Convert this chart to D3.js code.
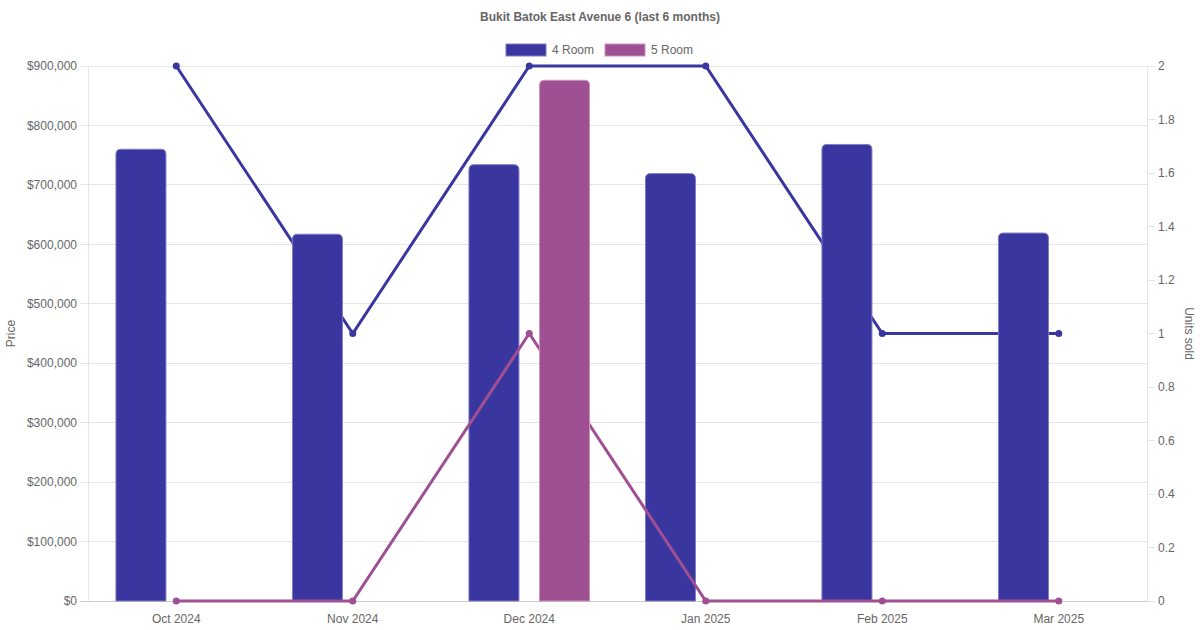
<!DOCTYPE html>
<html>
<head>
<meta charset="utf-8">
<script src="https://cdn.jsdelivr.net/npm/d3@7"></script>
<style>
  body { margin: 0; background: #fff; }
  svg text { font-family: "Liberation Sans", Arial, Helvetica, sans-serif; fill: #666; }
</style>
</head>
<body>
<svg id="chart" width="1200" height="630"></svg>
<script>
// data
const months = ['Oct 2024', 'Nov 2024', 'Dec 2024', 'Jan 2025', 'Feb 2025', 'Mar 2025'];
const seriesNames = ['4 Room', '5 Room'];
const price4 = [760000, 617000, 734000, 719000, 768000, 619000];
const price5 = [null, null, 876000, null, null, null];
const units4 = [2, 1, 2, 2, 1, 1];
const units5 = [0, 0, 1, 0, 0, 0];
const priceTicks = [0, 100000, 200000, 300000, 400000, 500000, 600000, 700000, 800000, 900000];
const unitTicks = [0, 0.2, 0.4, 0.6, 0.8, 1, 1.2, 1.4, 1.6, 1.8, 2];

const COL4 = '#3a36a0', COL5 = '#9f5093';
const EDGE4 = '#7e7cc4', EDGE5 = '#c893bf';

const svg = d3.select('#chart');
const L = 88, R = 1147, T = 66, B = 601;

const x0 = d3.scaleBand().domain(months).range([L, R]);
const x1 = d3.scaleBand().domain(seriesNames)
  .range([x0.bandwidth() * 0.1, x0.bandwidth() * 0.9]);
const yP = d3.scaleLinear().domain([0, 900000]).range([B, T]);
const yU = d3.scaleLinear().domain([0, 2]).range([B, T]);
const barW = Math.min(50, x1.bandwidth() * 0.9);

// grid
svg.append('g').selectAll('line').data(priceTicks).join('line')
  .attr('x1', L - 8).attr('x2', R)
  .attr('y1', d => yP(d)).attr('y2', d => yP(d))
  .attr('stroke', d => d === 0 ? '#ccc' : '#e5e5e5').attr('stroke-width', 1)
  .attr('shape-rendering', 'crispEdges');

// axis borders
svg.append('line').attr('x1', L).attr('x2', L).attr('y1', T).attr('y2', B)
  .attr('stroke', '#e5e5e5').attr('shape-rendering', 'crispEdges');
svg.append('line').attr('x1', R).attr('x2', R).attr('y1', T).attr('y2', B)
  .attr('stroke', '#e5e5e5').attr('shape-rendering', 'crispEdges');

// left axis labels
const fmtP = d => '$' + d3.format(',')(d);
svg.append('g').selectAll('text').data(priceTicks).join('text')
  .attr('x', L - 11).attr('y', d => yP(d)).attr('dy', '0.35em')
  .attr('text-anchor', 'end').attr('font-size', 12).text(fmtP);

// right axis ticks + labels
const gR = svg.append('g');
gR.selectAll('line').data(unitTicks).join('line')
  .attr('x1', R).attr('x2', R + 8)
  .attr('y1', d => yU(d)).attr('y2', d => yU(d))
  .attr('stroke', '#e5e5e5').attr('shape-rendering', 'crispEdges');
gR.selectAll('text').data(unitTicks).join('text')
  .attr('x', R + 11).attr('y', d => yU(d)).attr('dy', '0.35em')
  .attr('font-size', 12).text(d => d3.format('~g')(d));

// x labels
svg.append('g').selectAll('text').data(months).join('text')
  .attr('x', d => x0(d) + x0.bandwidth() / 2).attr('y', B + 22)
  .attr('text-anchor', 'middle').attr('font-size', 12).text(d => d);

// axis titles
svg.append('text').attr('transform', `translate(15,${(T + B) / 2}) rotate(-90)`)
  .attr('text-anchor', 'middle').attr('font-size', 12).text('Price');
svg.append('text').attr('transform', `translate(1185,${(T + B) / 2}) rotate(90)`)
  .attr('text-anchor', 'middle').attr('font-size', 12).text('Units sold');

// title
svg.append('text').attr('x', 600).attr('y', 21).attr('text-anchor', 'middle')
  .attr('font-size', 12).attr('font-weight', 'bold').text('Bukit Batok East Avenue 6 (last 6 months)');

// legend
const legend = [
  { name: seriesNames[0], col: COL4, edge: EDGE4, x: 506 },
  { name: seriesNames[1], col: COL5, edge: EDGE5, x: 605 }
];
legend.forEach(d => {
  svg.append('rect').attr('x', d.x).attr('y', 44).attr('width', 40).attr('height', 12)
    .attr('fill', d.col).attr('stroke', d.edge).attr('stroke-width', 1);
  svg.append('text').attr('x', d.x + 46).attr('y', 54).attr('font-size', 12).text(d.name);
});

// rounded-top bar path
function barPath(x, y, w, h, r) {
  r = Math.min(r, h, w / 2);
  return `M${x},${y + h}V${y + r}Q${x},${y} ${x + r},${y}H${x + w - r}Q${x + w},${y} ${x + w},${y + r}V${y + h}Z`;
}

const cx = d => x0(d) + x0.bandwidth() / 2;

function drawLine(vals, col) {
  const pts = months.map((m, i) => [cx(m), yU(vals[i])]);
  const g = svg.append('g');
  g.append('path').attr('d', d3.line()(pts))
    .attr('fill', 'none').attr('stroke', col).attr('stroke-width', 3);
  g.selectAll('circle').data(pts).join('circle')
    .attr('cx', d => d[0]).attr('cy', d => d[1]).attr('r', 3.5).attr('fill', col);
}

function drawBars(vals, name, col, edge) {
  const data = months.map((m, i) => ({ m, v: vals[i] })).filter(d => d.v != null);
  svg.append('g').selectAll('path').data(data).join('path')
    .attr('d', d => {
      const x = x0(d.m) + x1(name) + (x1.bandwidth() - barW) / 2;
      return barPath(x, yP(d.v), barW, B - yP(d.v), 5);
    })
    .attr('fill', col).attr('stroke', edge).attr('stroke-width', 1);
}

// draw order matches the reference layering
drawLine(units4, COL4);
drawBars(price4, seriesNames[0], COL4, EDGE4);
drawLine(units5, COL5);
drawBars(price5, seriesNames[1], COL5, EDGE5);
</script>
</body>
</html>
